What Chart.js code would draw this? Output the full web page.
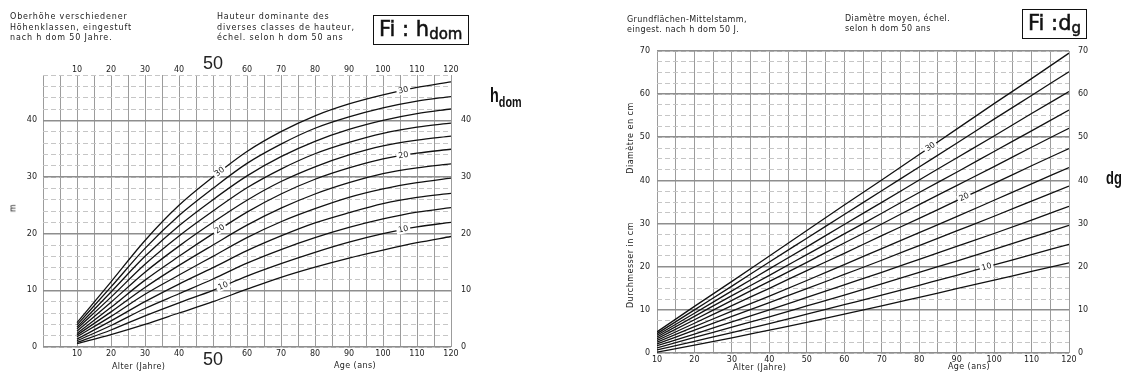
<!DOCTYPE html>
<html lang="de">
<head>
<meta charset="UTF-8">
<title>Fi: h dom / Fi: dg</title>
<script src="https://cdn.jsdelivr.net/npm/chart.js@4.4.1/dist/chart.umd.min.js"></script>
<style>
  body { margin:0; width:1122px; height:374px; background:#fff; position:relative; overflow:hidden;
         font-family:"DejaVu Sans", sans-serif; color:#222; }
  canvas { position:absolute; top:0; }
  #hChart { left:0; }
  #dChart { left:560px; }
  .txt { position:absolute; font-size:8px; letter-spacing:0.4px; line-height:10.5px; white-space:nowrap; }
  .wide { letter-spacing:0.85px; }
  .box { position:absolute; border:1.5px solid #111; box-sizing:border-box; font-size:21px; line-height:26px;
         padding-left:5px; white-space:nowrap; -webkit-text-stroke:0.5px #111; color:#111; }
  .box sub { font-size:15px; vertical-align:-3px; }
  .side { position:absolute; font-family:"Liberation Sans", sans-serif; font-weight:bold; color:#111;
          transform-origin:0 0; transform:scaleX(0.72); white-space:nowrap; }
  .rot { position:absolute; font-size:8px; letter-spacing:0.5px; white-space:nowrap;
         transform:translate(-50%,-50%) rotate(-90deg); }
</style>
</head>
<body>
<canvas id="hChart" width="560" height="374"></canvas>
<canvas id="dChart" width="562" height="374"></canvas>

<div class="txt wide" style="left:10px; top:12px;">Oberhöhe verschiedener<br>Höhenklassen, eingestuft<br>nach h dom 50 Jahre.</div>
<div class="txt wide" style="left:217px; top:12px;">Hauteur dominante des<br>diverses classes de hauteur,<br>échel. selon h dom 50 ans</div>
<div class="box" style="left:373px; top:15px; width:96px; height:30px;">Fi : h<sub>dom</sub></div>
<div class="side" style="left:490px; top:84px; font-size:20px;">h<span style="font-size:15px; vertical-align:-5px;">dom</span></div>
<div class="rot" style="left:13px; top:208px;">m</div>
<div class="txt" style="left:112px; top:362px;">Alter (Jahre)</div>
<div class="txt" style="left:334px; top:361px;">Age (ans)</div>

<div class="txt" style="left:627px; top:15px; line-height:9.8px;">Grundflächen-Mittelstamm,<br>eingest. nach h dom 50 J.</div>
<div class="txt" style="left:845px; top:14px; line-height:9.8px;">Diamètre moyen, échel.<br>selon h dom 50 ans</div>
<div class="box" style="left:1022px; top:9px; width:65px; height:30px;">Fi :d<sub>g</sub></div>
<div class="side" style="left:1106px; top:168px; font-size:18px;">dg</div>
<div class="rot" style="left:630px; top:138px;">Diamètre en cm</div>
<div class="rot" style="left:630px; top:265px;">Durchmesser in cm</div>
<div class="txt" style="left:733px; top:363px;">Alter (Jahre)</div>
<div class="txt" style="left:948px; top:362px;">Age (ans)</div>

<script>
  // Alter (Jahre) der Stützpunkte
  const ages = [10, 20, 30, 40, 50, 60, 70, 80, 90, 100, 110, 120];
  const classes = [30, 28, 26, 24, 22, 20, 18, 16, 14, 12, 10, 8];

  // Oberhöhe h dom (m) je Höhenklasse
  const h30 = [4.3, 11.5, 18.8, 25.0, 30.0, 34.5, 38.0, 40.8, 42.9, 44.5, 45.8, 46.8];
  const h28 = [3.9, 10.6, 17.4, 23.2, 28.0, 32.4, 35.8, 38.6, 40.6, 42.2, 43.4, 44.2];
  const h26 = [3.5, 9.7, 16.0, 21.4, 26.0, 30.2, 33.6, 36.3, 38.4, 40.0, 41.2, 42.0];
  const h24 = [3.2, 8.8, 14.6, 19.6, 24.0, 28.1, 31.4, 34.1, 36.1, 37.7, 38.8, 39.5];
  const h22 = [2.8, 7.9, 13.2, 17.8, 22.0, 25.9, 29.2, 31.8, 33.9, 35.5, 36.5, 37.2];
  const h20 = [2.4, 7.0, 11.8, 16.0, 20.0, 23.8, 27.0, 29.6, 31.6, 33.2, 34.2, 34.9];
  const h18 = [2.1, 6.2, 10.5, 14.4, 18.0, 21.5, 24.5, 27.0, 29.0, 30.6, 31.6, 32.3];
  const h16 = [1.8, 5.4, 9.3, 12.7, 16.0, 19.3, 22.1, 24.4, 26.4, 27.9, 29.0, 29.8];
  const h14 = [1.4, 4.6, 8.0, 11.1, 14.0, 17.0, 19.6, 21.9, 23.7, 25.3, 26.4, 27.1];
  const h12 = [1.1, 3.8, 6.8, 9.4, 12.0, 14.8, 17.2, 19.3, 21.1, 22.6, 23.8, 24.6];
  const h10 = [0.8, 3.0, 5.5, 7.8, 10.0, 12.5, 14.7, 16.7, 18.5, 20.0, 21.2, 22.0];
  const h8  = [0.6, 2.2, 4.0, 6.0, 8.0, 10.2, 12.3, 14.1, 15.7, 17.1, 18.4, 19.5];

  // Durchmesser dg (cm) je Höhenklasse
  const d30 = [4.9, 10.8, 16.6, 22.5, 28.4, 34.3, 40.1, 46.0, 51.9, 57.8, 63.6, 69.5];
  const d28 = [4.5, 10.0, 15.5, 21.1, 26.6, 32.1, 37.6, 43.1, 48.6, 54.2, 59.7, 65.2];
  const d26 = [4.1, 9.2, 14.4, 19.5, 24.6, 29.8, 34.9, 40.1, 45.2, 50.3, 55.5, 60.6];
  const d24 = [3.7, 8.5, 13.3, 18.0, 22.8, 27.6, 32.4, 37.2, 41.9, 46.7, 51.5, 56.3];
  const d22 = [3.3, 7.7, 12.2, 16.6, 21.0, 25.5, 29.9, 34.4, 38.8, 43.2, 47.7, 52.1];
  const d20 = [2.9, 6.9, 11.0, 15.0, 19.1, 23.1, 27.2, 31.2, 35.3, 39.3, 43.4, 47.4];
  const d18 = [2.5, 6.1, 9.7, 13.2, 16.8, 20.5, 24.2, 27.9, 31.6, 35.4, 39.2, 43.0];
  const d16 = [2.1, 5.3, 8.5, 11.7, 14.9, 18.2, 21.5, 24.9, 28.3, 31.7, 35.2, 38.7];
  const d14 = [1.7, 4.4, 7.2, 10.0, 12.9, 15.8, 18.7, 21.7, 24.7, 27.7, 30.8, 34.0];
  const d12 = [1.2, 3.6, 6.0, 8.4, 10.9, 13.4, 16.0, 18.7, 21.3, 24.0, 26.8, 29.6];
  const d10 = [0.7, 2.7, 4.7, 6.8, 9.0, 11.2, 13.4, 15.7, 18.0, 20.4, 22.8, 25.2];
  const d8  = [0.2, 1.8, 3.5, 5.3, 7.1, 9.0, 10.9, 12.9, 14.9, 16.9, 18.9, 20.9];

  const hSeries = [h30, h28, h26, h24, h22, h20, h18, h16, h14, h12, h10, h8];
  const dSeries = [d30, d28, d26, d24, d22, d20, d18, d16, d14, d12, d10, d8];

  // where the class numbers sit on the curves (age)
  const hLabels = [[30, 52], [20, 52], [10, 53], [30, 106], [20, 106], [10, 106]];
  const dLabels = [[30, 83], [20, 92], [10, 98]];

  const FONT = 'DejaVu Sans';
  const tickFont = { family: FONT, size: 8 };

  function lerp(vals, a) {
    for (let i = 0; i < ages.length - 1; i++) {
      if (a >= ages[i] && a <= ages[i + 1]) {
        const f = (a - ages[i]) / (ages[i + 1] - ages[i]);
        return vals[i] + f * (vals[i + 1] - vals[i]);
      }
    }
    return vals[vals.length - 1];
  }

  function labelPlugin(series, items) {
    return {
      id: 'curveLabels',
      afterDatasetsDraw(chart) {
        const ctx = chart.ctx, xs = chart.scales.x, ys = chart.scales.y;
        items.forEach(([cls, age]) => {
          const vals = series[classes.indexOf(cls)];
          const px = xs.getPixelForValue(age), py = ys.getPixelForValue(lerp(vals, age));
          const dx = xs.getPixelForValue(age + 3) - xs.getPixelForValue(age - 3);
          const dy = ys.getPixelForValue(lerp(vals, age + 3)) - ys.getPixelForValue(lerp(vals, age - 3));
          ctx.save();
          ctx.translate(px, py);
          ctx.rotate(Math.atan2(dy, dx));
          ctx.fillStyle = '#fff';
          ctx.fillRect(-7, -4, 14, 8);
          ctx.fillStyle = '#222';
          ctx.font = '8px ' + FONT;
          ctx.textAlign = 'center';
          ctx.textBaseline = 'middle';
          ctx.fillText(String(cls), 0, 0);
          ctx.restore();
        });
      }
    };
  }

  function datasets(series) {
    return series.map((vals, i) => ({
      label: String(classes[i]),
      data: ages.map((a, j) => ({ x: a, y: vals[j] })),
      borderColor: '#111',
      borderWidth: 1.3,
      pointRadius: 0,
      fill: false,
      cubicInterpolationMode: 'monotone',
      xAxisID: 'x',
      yAxisID: 'y'
    }));
  }

  const ageTicks = {
    stepSize: 5, autoSkip: false, maxRotation: 0, color: '#222', padding: 2,
    callback: v => (v >= 10 && v % 10 === 0) ? v : '',
    font: c => (c.tick && c.tick.value === 50) ? { family: 'Liberation Sans', size: 18 } : tickFont
  };

  // Fi : h dom
  new Chart(document.getElementById('hChart'), {
    type: 'line',
    data: { datasets: datasets(hSeries) },
    options: {
      responsive: false,
      animation: false,
      layout: { padding: 0 },
      plugins: { legend: { display: false }, tooltip: { enabled: false } },
      scales: {
        x: {
          type: 'linear', position: 'bottom', min: 0, max: 120,
          afterFit: s => { s.height = 27; },
          ticks: ageTicks,
          grid: { color: '#9c9c9c', lineWidth: 1, drawTicks: false },
          border: { display: false }
        },
        xTop: {
          type: 'linear', position: 'top', min: 0, max: 120,
          afterFit: s => { s.height = 75; },
          ticks: Object.assign({}, ageTicks, { padding: 0 }),
          grid: { display: false, drawTicks: false },
          border: { display: false }
        },
        yMinor: {
          type: 'linear', position: 'left', min: 0, max: 48,
          afterFit: s => { s.width = 0; },
          ticks: { display: false, stepSize: 2 },
          grid: { color: '#c6c6c6', lineWidth: 1, drawTicks: false },
          border: { display: false, dash: [5, 3] }
        },
        y: {
          type: 'linear', position: 'left', min: 0, max: 48,
          afterFit: s => { s.width = 43; },
          ticks: { stepSize: 10, color: '#222', font: tickFont, padding: 6,
                   callback: v => v % 10 === 0 ? v : '' },
          grid: { color: c => c.tick && c.tick.value % 10 === 0 ? '#8e8e8e' : 'transparent',
                  lineWidth: 1.6, drawTicks: false },
          border: { display: false }
        },
        yRight: {
          type: 'linear', position: 'right', min: 0, max: 48,
          afterFit: s => { s.width = 109; },
          ticks: { stepSize: 10, color: '#222', font: tickFont, padding: 10,
                   callback: v => v % 10 === 0 ? v : '' },
          grid: { display: false, drawTicks: false },
          border: { display: false }
        }
      }
    },
    plugins: [labelPlugin(hSeries, hLabels)]
  });

  // Fi : dg
  new Chart(document.getElementById('dChart'), {
    type: 'line',
    data: { datasets: datasets(dSeries) },
    options: {
      responsive: false,
      animation: false,
      layout: { padding: { top: 51, left: 0, right: 0, bottom: 0 } },
      plugins: { legend: { display: false }, tooltip: { enabled: false } },
      scales: {
        x: {
          type: 'linear', position: 'bottom', min: 10, max: 120,
          afterFit: s => { s.height = 21; },
          ticks: {
            stepSize: 5, autoSkip: false, maxRotation: 0, color: '#222', padding: 2, font: tickFont,
            callback: v => v % 10 === 0 ? v : ''
          },
          grid: { color: '#9c9c9c', lineWidth: 1, drawTicks: false },
          border: { display: false }
        },
        yMinor: {
          type: 'linear', position: 'left', min: 0, max: 70,
          afterFit: s => { s.width = 0; },
          ticks: { display: false, stepSize: 2.5 },
          grid: { color: '#c6c6c6', lineWidth: 1, drawTicks: false },
          border: { display: false, dash: [5, 3] }
        },
        y: {
          type: 'linear', position: 'left', min: 0, max: 70,
          afterFit: s => { s.width = 97; },
          ticks: { stepSize: 10, color: '#222', font: tickFont, padding: 7 },
          grid: { color: '#8e8e8e', lineWidth: 1.6, drawTicks: false },
          border: { display: false }
        },
        yRight: {
          type: 'linear', position: 'right', min: 0, max: 70,
          afterFit: s => { s.width = 53; },
          ticks: { stepSize: 10, color: '#222', font: tickFont, padding: 9 },
          grid: { display: false, drawTicks: false },
          border: { display: false }
        }
      }
    },
    plugins: [labelPlugin(dSeries, dLabels)]
  });
</script>
</body>
</html>
